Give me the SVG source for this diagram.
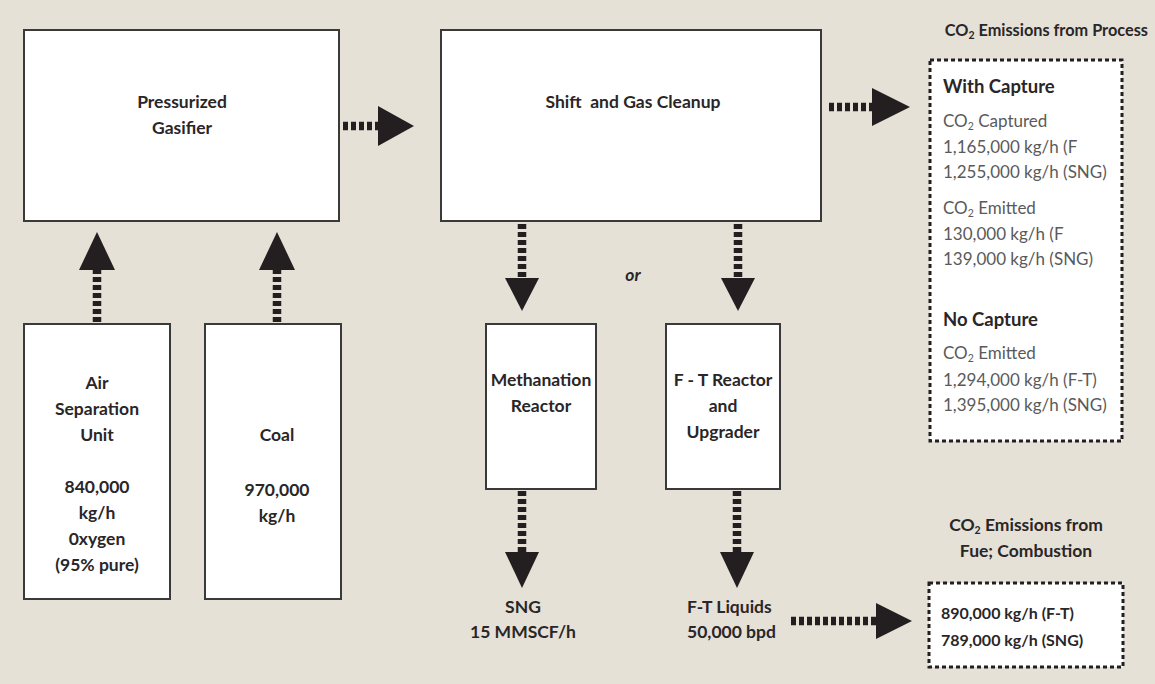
<svg xmlns="http://www.w3.org/2000/svg" width="1155" height="684" viewBox="0 0 1155 684">
<style>
.box{fill:#fff;stroke:#3a3a3a;stroke-width:2}
.dbox{fill:#fff;stroke:#231f20;stroke-width:3;stroke-dasharray:4 3}
.t{font-family:Lato,"Liberation Sans",sans-serif;font-weight:bold;font-size:17.5px;fill:#2a2627;text-anchor:middle}
.h{font-family:Lato,"Liberation Sans",sans-serif;font-weight:bold;font-size:17.5px;fill:#2a2627}
.hh{font-family:Lato,"Liberation Sans",sans-serif;font-weight:bold;font-size:18.5px;fill:#2a2627}
.f{font-family:Lato,"Liberation Sans",sans-serif;font-weight:bold;font-size:16px;fill:#2a2627}
.v{font-family:Lato,"Liberation Sans",sans-serif;font-size:17px;fill:#5a5a5a}
.sub{font-size:10.5px}
.shaft{stroke:#231f20;stroke-width:8.5;stroke-dasharray:5 3;fill:none}
.head{fill:#231f20}
</style>
<rect x="0" y="0" width="1155" height="684" fill="#e5e1d7"/>

<g id="gasifier">
<rect class="box" x="24" y="30" width="315" height="191"/>
<text class="t" x="182" y="108">Pressurized</text>
<text class="t" x="182" y="134">Gasifier</text>
</g>
<g id="shift">
<rect class="box" x="441" y="30" width="380" height="191"/>
<text class="t" x="633" y="108" xml:space="preserve">Shift  and Gas Cleanup</text>
</g>
<g id="asu">
<rect class="box" x="24" y="324" width="146" height="275"/>
<text class="t" x="97" y="389">Air</text>
<text class="t" x="97" y="415">Separation</text>
<text class="t" x="97" y="441">Unit</text>
<text class="t" x="97" y="493">840,000</text>
<text class="t" x="97" y="519">kg/h</text>
<text class="t" x="97" y="545">0xygen</text>
<text class="t" x="97" y="571">(95% pure)</text>
</g>
<g id="coal">
<rect class="box" x="205" y="324" width="136" height="275"/>
<text class="t" x="277" y="441">Coal</text>
<text class="t" x="277" y="496">970,000</text>
<text class="t" x="277" y="522">kg/h</text>
</g>
<g id="methanation">
<rect class="box" x="486" y="324" width="110" height="165"/>
<text class="t" x="541" y="386">Methanation</text>
<text class="t" x="541" y="412">Reactor</text>
</g>
<g id="ft">
<rect class="box" x="666" y="324" width="114" height="165"/>
<text class="t" x="723" y="386">F - T Reactor</text>
<text class="t" x="723" y="412">and</text>
<text class="t" x="723" y="438">Upgrader</text>
</g>
<g id="or-label">
<text class="t" x="633" y="281" style="font-style:italic">or</text>
</g>
<g id="sng">
<text class="t" x="523" y="613">SNG</text>
<text class="t" x="523" y="638">15 MMSCF/h</text>
</g>
<g id="ftliquids">
<text class="h" x="687" y="613">F-T Liquids</text>
<text class="h" x="687" y="638">50,000 bpd</text>
</g>
<g id="process-emissions">
<text class="h" x="1148" y="36" style="text-anchor:end;font-size:16.3px">CO<tspan class="sub" dy="3">2</tspan><tspan dy="-3"> Emissions from Process</tspan></text>
<rect class="dbox" x="930" y="60" width="192" height="381"/>
<text class="hh" x="943" y="93">With Capture</text>
<text class="v" x="943" y="127">CO<tspan class="sub" dy="3">2</tspan><tspan dy="-3"> Captured</tspan></text>
<text class="v" x="943" y="153">1,165,000 kg/h (F</text>
<text class="v" x="943" y="178">1,255,000 kg/h (SNG)</text>
<text class="v" x="943" y="214">CO<tspan class="sub" dy="3">2</tspan><tspan dy="-3"> Emitted</tspan></text>
<text class="v" x="943" y="240">130,000 kg/h (F</text>
<text class="v" x="943" y="265">139,000 kg/h (SNG)</text>
<text class="hh" x="943" y="326">No Capture</text>
<text class="v" x="943" y="359">CO<tspan class="sub" dy="3">2</tspan><tspan dy="-3"> Emitted</tspan></text>
<text class="v" x="943" y="386">1,294,000 kg/h (F-T)</text>
<text class="v" x="943" y="411">1,395,000 kg/h (SNG)</text>
</g>
<g id="fuel-emissions">
<text class="t" x="1026" y="531">CO<tspan class="sub" dy="3">2</tspan><tspan dy="-3"> Emissions from</tspan></text>
<text class="t" x="1026" y="557">Fue; Combustion</text>
<rect class="dbox" x="929" y="583" width="194" height="84"/>
<text class="f" x="941" y="619">890,000 kg/h (F-T)</text>
<text class="f" x="941" y="646">789,000 kg/h (SNG)</text>
</g>

<g id="connectors">
<line class="shaft" x1="343" y1="126" x2="379" y2="126"/>
<polygon class="head" points="378,106 414,126 378,146"/>
<line class="shaft" x1="829" y1="107" x2="873" y2="107"/>
<polygon class="head" points="872,88 910,107 872,126"/>
<line class="shaft" x1="97" y1="322" x2="97" y2="269"/>
<polygon class="head" points="79,270 97,232 115,270"/>
<line class="shaft" x1="277" y1="322" x2="277" y2="269"/>
<polygon class="head" points="259,270 277,232 295,270"/>
<line class="shaft" x1="522" y1="224" x2="522" y2="279"/>
<polygon class="head" points="505,278 539,278 522,311"/>
<line class="shaft" x1="738" y1="224" x2="738" y2="279"/>
<polygon class="head" points="721,278 755,278 738,311"/>
<line class="shaft" x1="522" y1="491" x2="522" y2="553"/>
<polygon class="head" points="505,552 539,552 522,588"/>
<line class="shaft" x1="737" y1="491" x2="737" y2="553"/>
<polygon class="head" points="720,552 754,552 737,588"/>
<line class="shaft" x1="791" y1="621" x2="877" y2="621"/>
<polygon class="head" points="876,603 912,621 876,639"/>
</g>
</svg>
